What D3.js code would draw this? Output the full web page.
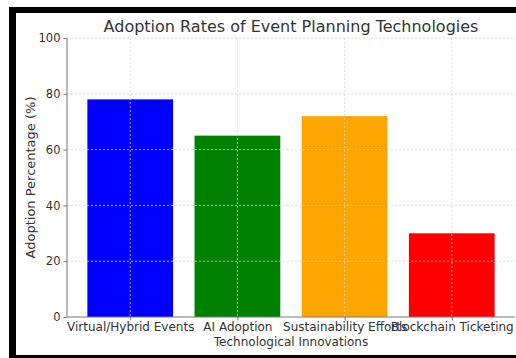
<!DOCTYPE html>
<html>
<head>
<meta charset="utf-8">
<script src="https://cdn.jsdelivr.net/npm/d3@7"></script>
<style>
  html, body { margin: 0; padding: 0; background: #fff; overflow: hidden; }
  svg { display: block; font-family: "DejaVu Sans", sans-serif; }
  .grid line { stroke: #d6d6d6; stroke-dasharray: 2,2; stroke-width: 0.8; }
  .axis { font-family: "DejaVu Sans", sans-serif; }
  .axis text { fill: #333; font-size: 11.5px; }
  .axis path, .axis line { stroke: #777; }
</style>
</head>
<body>
<div id="chart"></div>
<script>
// === DATA ===
const categories = ["Virtual/Hybrid Events", "AI Adoption", "Sustainability Efforts", "Blockchain Ticketing"];
const adoption = [78, 65, 72, 30];
const barColors = ["#0000ff", "#008000", "#ffa500", "#ff0000"];
const yTicks = [0, 20, 40, 60, 80, 100];

const W = 516, H = 358;
const plot = { left: 67, right: 515, top: 38, bottom: 317 };

const svg = d3.select("#chart").append("svg")
    .attr("width", W)
    .attr("height", H);

// black frame (cropped screenshot border)
svg.append("rect").attr("x", 9).attr("y", 7).attr("width", W - 9).attr("height", 6).attr("fill", "#000");
svg.append("rect").attr("x", 9).attr("y", 7).attr("width", 7).attr("height", H - 7).attr("fill", "#000");
svg.append("rect").attr("x", 9).attr("y", 355).attr("width", W - 9).attr("height", 3).attr("fill", "#000");

// scales: matplotlib style categorical axis, bars 0.8 wide, 5% margins
const n = categories.length;
const span = (n - 1) + 0.8;
const pad = 0.05 * span;
const xLin = d3.scaleLinear()
    .domain([-0.4 - pad, n - 1 + 0.4 + pad])
    .range([plot.left, plot.right]);
const y = d3.scaleLinear().domain([0, 100]).range([plot.bottom, plot.top]);

// bars
svg.append("g").selectAll("rect")
    .data(adoption)
    .enter().append("rect")
    .attr("x", (d, i) => xLin(i - 0.4))
    .attr("width", (d, i) => xLin(i + 0.4) - xLin(i - 0.4))
    .attr("y", d => y(d))
    .attr("height", d => y(0) - y(d))
    .attr("fill", (d, i) => barColors[i]);

// grid on top of bars
const grid = svg.append("g").attr("class", "grid");
grid.selectAll(".h").data(yTicks.slice(1)).enter().append("line")
    .attr("x1", plot.left).attr("x2", plot.right)
    .attr("y1", d => y(d)).attr("y2", d => y(d));
grid.selectAll(".v").data(categories).enter().append("line")
    .attr("x1", (d, i) => xLin(i)).attr("x2", (d, i) => xLin(i))
    .attr("y1", plot.top).attr("y2", plot.bottom);

// y axis
const yAxis = svg.append("g").attr("class", "axis")
    .attr("transform", `translate(${plot.left},0)`)
    .call(d3.axisLeft(y).tickValues(yTicks).tickSize(3.5).tickPadding(3));
yAxis.attr("font-family", null).attr("font-size", null);
yAxis.select(".domain").attr("d", `M0,${plot.top}V${plot.bottom}`);

// x axis
const xAxis = svg.append("g").attr("class", "axis")
    .attr("transform", `translate(0,${plot.bottom})`)
    .call(d3.axisBottom(xLin).tickValues(d3.range(n)).tickSize(3.5).tickPadding(2)
        .tickFormat(i => categories[i]));
xAxis.attr("font-family", null).attr("font-size", null);
xAxis.select(".domain").attr("d", `M${plot.left},0H${plot.right}`);
xAxis.selectAll(".tick text").style("font-size", "12px");

// titles
svg.append("text")
    .attr("x", (plot.left + plot.right) / 2)
    .attr("y", 32)
    .attr("text-anchor", "middle")
    .attr("fill", "#333")
    .style("font-size", "16px")
    .text("Adoption Rates of Event Planning Technologies");

svg.append("text")
    .attr("x", (plot.left + plot.right) / 2)
    .attr("y", 346)
    .attr("text-anchor", "middle")
    .attr("fill", "#333")
    .style("font-size", "12px")
    .text("Technological Innovations");

svg.append("text")
    .attr("transform", `translate(35,${(plot.top + plot.bottom) / 2}) rotate(-90)`)
    .attr("text-anchor", "middle")
    .attr("fill", "#333")
    .style("font-size", "13px")
    .text("Adoption Percentage (%)");
</script>
</body>
</html>
